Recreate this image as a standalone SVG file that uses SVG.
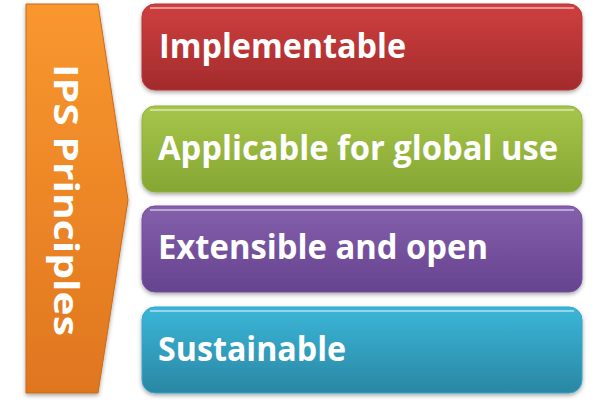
<svg xmlns="http://www.w3.org/2000/svg" width="600" height="406" viewBox="0 0 600 406">
<defs>
<linearGradient id="gOr" x1="0" y1="0" x2="0" y2="1"><stop offset="0" stop-color="#f9972f"/><stop offset="1" stop-color="#e0761f"/></linearGradient>
<linearGradient id="gR" x1="0" y1="0" x2="0" y2="1"><stop offset="0" stop-color="#cf3f3f"/><stop offset="1" stop-color="#a32b2c"/></linearGradient>
<linearGradient id="gG" x1="0" y1="0" x2="0" y2="1"><stop offset="0" stop-color="#a6c64a"/><stop offset="1" stop-color="#86a634"/></linearGradient>
<linearGradient id="gP" x1="0" y1="0" x2="0" y2="1"><stop offset="0" stop-color="#8460ad"/><stop offset="1" stop-color="#67438e"/></linearGradient>
<linearGradient id="gT" x1="0" y1="0" x2="0" y2="1"><stop offset="0" stop-color="#3bb6d8"/><stop offset="1" stop-color="#2a87a4"/></linearGradient>
<filter id="sh" x="-5%" y="-10%" width="110%" height="125%"><feDropShadow dx="0" dy="2" stdDeviation="2" flood-color="#000" flood-opacity="0.35"/></filter>
</defs>
<style>
.box{filter:url(#sh);stroke-width:1}
.hl{fill:none;stroke:#fff;stroke-opacity:0.45;stroke-width:2}
.t{font-family:"Open Sans","Liberation Sans",sans-serif;font-weight:700;fill:#fff;font-size:34px}
</style>
<g id="arrow">
<path d="M26,4 L98,4 L128,200 L98,393 L26,393 Z" fill="url(#gOr)" stroke="#c86a1c" filter="url(#sh)"/>
<text class="t" transform="translate(54,200) rotate(90)" text-anchor="middle" font-size="44" textLength="272" lengthAdjust="spacingAndGlyphs">IPS Principles</text>
</g>
<g id="n1">
<rect class="box" x="142" y="4" width="440" height="86" rx="13" fill="url(#gR)" stroke="#b83535"/>
<path class="hl" d="M150,8 H574"/>
<text class="t" x="159" y="58" textLength="247" lengthAdjust="spacingAndGlyphs">Implementable</text>
</g>
<g id="n2">
<rect class="box" x="142" y="106" width="440" height="86" rx="13" fill="url(#gG)" stroke="#90b03c"/>
<path class="hl" d="M150,110 H574"/>
<text class="t" x="158" y="160" textLength="400" lengthAdjust="spacingAndGlyphs">Applicable for global use</text>
</g>
<g id="n3">
<rect class="box" x="142" y="206" width="440" height="86" rx="13" fill="url(#gP)" stroke="#7450a0"/>
<path class="hl" d="M150,210 H574"/>
<text class="t" x="158" y="259" textLength="330" lengthAdjust="spacingAndGlyphs">Extensible and open</text>
</g>
<g id="n4">
<rect class="box" x="142" y="307" width="440" height="86" rx="13" fill="url(#gT)" stroke="#35a6c8"/>
<path class="hl" d="M150,311 H574"/>
<text class="t" x="158" y="361" textLength="188" lengthAdjust="spacingAndGlyphs">Sustainable</text>
</g>
<g id="connectors"/>
</svg>
